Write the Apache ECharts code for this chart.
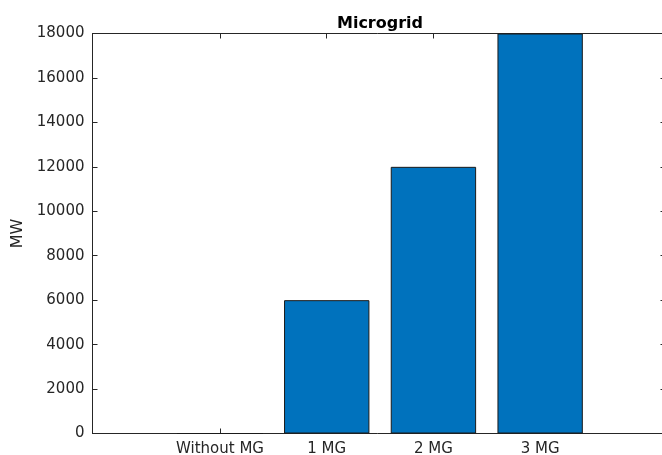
<!DOCTYPE html>
<html>
<head>
<meta charset="utf-8">
<script src="https://cdn.jsdelivr.net/npm/echarts@6/dist/echarts.min.js"></script>
<style>html,body{margin:0;padding:0;background:#fff}#c{width:662px;height:455px}</style>
</head>
<body>
<div id="c"></div>
<script>
const categories = ['Without MG', '1 MG', '2 MG', '3 MG'];
const positions = [1, 2, 3, 4];
const values = [0, 6000, 12000, 18000];
const yTicks = [0, 2000, 4000, 6000, 8000, 10000, 12000, 14000, 16000, 18000];

const xMin = -0.195, xMax = 5.142;
const gridLeft = 92.5, gridRight = 0, gridTop = 33.5, gridBottom = 21.5;
const W = 662;
const plotW = W - gridLeft - gridRight;
const barW = 0.8 * plotW / (xMax - xMin);
const axisColor = '#262626';
const font = 'DejaVu Sans';

const chart = echarts.init(document.getElementById('c'), null, {renderer: 'canvas'});
const xCommon = {
  type: 'value', min: xMin, max: xMax,
  axisLine: {show: true, onZero: false, lineStyle: {color: axisColor, width: 1}},
  axisTick: {show: true, inside: true, length: 5, lineStyle: {color: axisColor}, customValues: positions},
  splitLine: {show: false}
};
chart.setOption({
  animation: false,
  backgroundColor: '#fff',
  title: {
    text: 'Microgrid', left: 375, top: 11, textAlign: 'center',
    textStyle: {fontFamily: font, fontWeight: 'bold', fontSize: 16, color: '#000'}
  },
  grid: {left: gridLeft, right: gridRight, top: gridTop, bottom: gridBottom, containLabel: false, outerBoundsMode: 'none'},
  xAxis: [
    Object.assign({}, xCommon, {
      position: 'bottom',
      axisLabel: {show: true, customValues: positions, formatter: v => categories[positions.indexOf(v)] || '',
        fontFamily: font, fontSize: 15, lineHeight: 15, color: axisColor, margin: 8}
    }),
    Object.assign({}, xCommon, {position: 'top', axisLabel: {show: false}})
  ],
  yAxis: [
    {
      type: 'value', min: 0, max: 18000, interval: 2000, position: 'left',
      name: 'MW', nameLocation: 'middle', nameGap: 66, nameRotate: 90,
      nameTextStyle: {fontFamily: font, fontSize: 16, color: axisColor},
      axisLine: {show: true, onZero: false, lineStyle: {color: axisColor}},
      axisTick: {show: true, inside: true, length: 5, lineStyle: {color: axisColor}},
      axisLabel: {fontFamily: font, fontSize: 15, color: axisColor, margin: 8,
        formatter: v => yTicks.includes(v) ? String(v) : ''},
      splitLine: {show: false}
    },
    {
      type: 'value', min: 0, max: 18000, interval: 2000, position: 'right',
      axisLine: {show: false, onZero: false},
      axisTick: {show: true, inside: true, length: 1.5, lineStyle: {color: axisColor}},
      axisLabel: {show: false},
      splitLine: {show: false}
    }
  ],
  series: [{
    type: 'bar',
    xAxisIndex: 0, yAxisIndex: 0,
    barWidth: barW,
    data: values.map((v, i) => [positions[i], v]),
    itemStyle: {color: '#0072BD', borderColor: '#1a1a1a', borderWidth: 1}
  }]
});
</script>
</body>
</html>
